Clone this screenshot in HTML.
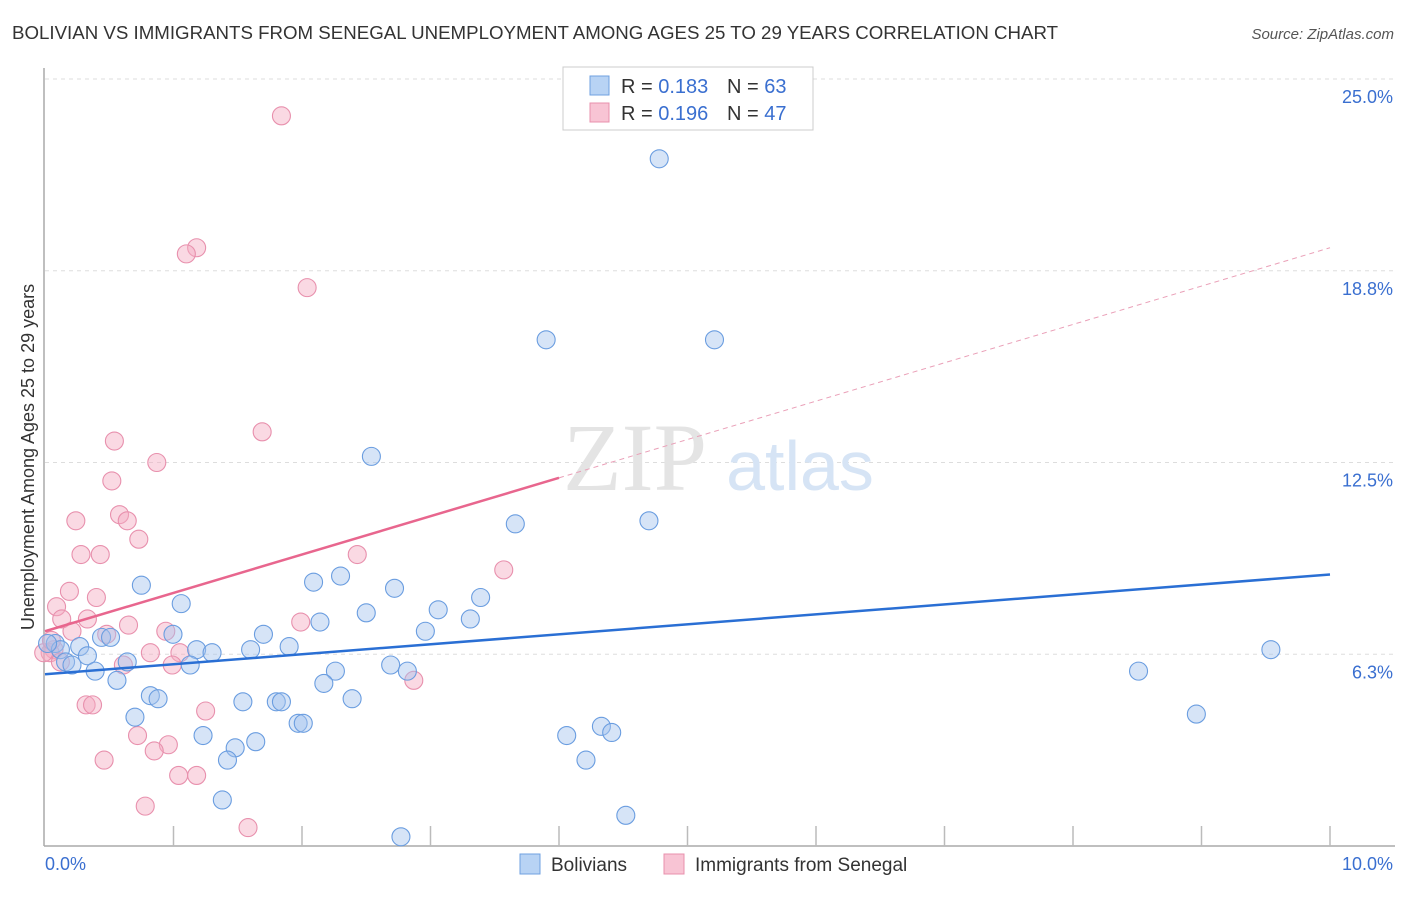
<!DOCTYPE html>
<html><head><meta charset="utf-8"><style>
body{margin:0;background:#fff;font-family:"Liberation Sans",sans-serif}
</style></head><body>
<svg id="chart" width="1406" height="892" xmlns="http://www.w3.org/2000/svg" font-family="Liberation Sans, sans-serif">
<text x="12" y="39" font-size="18.7" fill="#333">BOLIVIAN VS IMMIGRANTS FROM SENEGAL UNEMPLOYMENT AMONG AGES 25 TO 29 YEARS CORRELATION CHART</text>
<text x="1394" y="39" font-size="15" fill="#555" text-anchor="end" font-style="italic">Source: ZipAtlas.com</text>
<g id="grid"></g>
<text x="635" y="490" font-size="96" fill="#e4e4e4" font-family="Liberation Serif, serif" text-anchor="middle">ZIP</text>
<text x="800" y="490" font-size="70" fill="#d6e4f5" text-anchor="middle">atlas</text>
<g id="axes"></g>
<g id="points"></g>
<g id="trends"></g>
<text transform="translate(34,457) rotate(-90)" font-size="18" fill="#333" text-anchor="middle">Unemployment Among Ages 25 to 29 years</text>
<g>
<rect x="563" y="67" width="250" height="63" fill="#fff" stroke="#ccc"/>
<rect x="590" y="76" width="19" height="19" fill="#b8d3f4" stroke="#6fa0e0"/>
<text x="621" y="93" font-size="20" fill="#333">R = <tspan fill="#3a6fd0">0.183</tspan></text>
<text x="727" y="93" font-size="20" fill="#333">N = <tspan fill="#3a6fd0">63</tspan></text>
<rect x="590" y="103" width="19" height="19" fill="#f8c4d4" stroke="#e890ad"/>
<text x="621" y="120" font-size="20" fill="#333">R = <tspan fill="#3a6fd0">0.196</tspan></text>
<text x="727" y="120" font-size="20" fill="#333">N = <tspan fill="#3a6fd0">47</tspan></text>
</g>
<g>
<rect x="520" y="854" width="20" height="20" fill="#b8d3f4" stroke="#6fa0e0"/>
<text x="551" y="871" font-size="19" fill="#333">Bolivians</text>
<rect x="664" y="854" width="20" height="20" fill="#f8c4d4" stroke="#e890ad"/>
<text x="695" y="871" font-size="19" fill="#333">Immigrants from Senegal</text>
</g>
</svg>
<script>
const yTicks=[6.25,12.5,18.75,25];
const yTickLabels=["6.3%","12.5%","18.8%","25.0%"];
const xTickLabels=["0.0%","10.0%"];
const blueX=[4.78,3.90,5.21,2.54,3.66,4.70,0.75,2.09,2.30,2.72,1.06,3.06,3.39,2.50,3.31,2.14,2.96,1.70,0.996,0.44,0.51,1.90,1.60,1.18,1.30,0.27,0.08,0.12,0.33,0.16,0.21,0.39,0.64,1.13,2.69,2.26,2.82,0.56,8.51,9.54,0.82,0.88,2.17,1.54,1.80,1.84,2.39,0.70,1.97,2.01,8.96,1.23,4.06,4.33,4.41,1.64,1.48,1.42,4.21,1.38,4.52,2.77,0.02];
const blueY=[22.4,16.5,16.5,12.7,10.5,10.6,8.5,8.6,8.8,8.4,7.9,7.7,8.1,7.6,7.4,7.3,7.0,6.9,6.9,6.8,6.8,6.5,6.4,6.4,6.3,6.5,6.6,6.4,6.2,6.0,5.9,5.7,6.0,5.9,5.9,5.7,5.7,5.4,5.7,6.4,4.9,4.8,5.3,4.7,4.7,4.7,4.8,4.2,4.0,4.0,4.3,3.6,3.6,3.9,3.7,3.4,3.2,2.8,2.8,1.5,1.0,0.3,6.6];
const pinkX=[1.84,1.18,1.10,2.04,1.69,0.54,0.87,0.52,0.24,0.58,0.64,0.73,0.28,0.43,2.43,3.57,0.19,0.09,0.40,0.13,0.33,0.65,1.99,0.94,0.48,0.21,0.82,1.05,0.61,0.99,2.87,0.07,0.04,0.32,0.37,1.25,0.72,0.96,0.85,0.46,1.04,1.18,0.78,1.58,-0.01,0.05,0.12];
const pinkY=[23.8,19.5,19.3,18.2,13.5,13.2,12.5,11.9,10.6,10.8,10.6,10.0,9.5,9.5,9.5,9.0,8.3,7.8,8.1,7.4,7.4,7.2,7.3,7.0,6.9,7.0,6.3,6.3,5.9,5.9,5.4,6.4,6.3,4.6,4.6,4.4,3.6,3.3,3.1,2.8,2.3,2.3,1.3,0.6,6.3,6.7,6.0];
const blueTrend=[[0,5.6],[10,8.85]];
const pinkTrend=[[0,7.0],[4.0,12.0]];
const pinkDash=[[4.0,12.0],[10,19.5]];
const X0=45,X1=1330,Y0=846,Y25=79;
const xs=v=>X0+(X1-X0)*v/10;
const ys=v=>Y0-(Y0-Y25)*v/25;
const NS="http://www.w3.org/2000/svg";
function mk(t,a,p){const e=document.createElementNS(NS,t);for(const k in a)e.setAttribute(k,a[k]);p.appendChild(e);return e;}
const grid=document.getElementById('grid'),axes=document.getElementById('axes'),pts=document.getElementById('points'),tr=document.getElementById('trends');
yTicks.forEach((t,i)=>{
 const l=mk('line',{x1:45,x2:1395,y1:ys(t),y2:ys(t),stroke:'#ddd','stroke-dasharray':'4,4'},grid);
 
 
 const tx=mk('text',{x:1393,y:ys(t)+24,'font-size':18,fill:'#3a6fd0','text-anchor':'end'},axes);
 tx.textContent=yTickLabels[i];
 
 
});
let a=mk('line',{x1:44,x2:44,y1:68,y2:846,stroke:'#aaa','stroke-width':1.5},axes);


a=mk('line',{x1:44,x2:1395,y1:846,y2:846,stroke:'#aaa','stroke-width':1.5},axes);


for(let i=1;i<=10;i++){
 const tk=mk('line',{x1:xs(i),x2:xs(i),y1:826,y2:846,stroke:'#bbb','stroke-width':1.5},axes);
 
 
}
[[xTickLabels[0],45,'start'],[xTickLabels[1],1393,'end']].forEach(d=>{
 const tx=mk('text',{x:d[1],y:870,'font-size':18,fill:'#3a6fd0','text-anchor':d[2]},axes);
 tx.textContent=d[0];
 
 
});
function dots(X,Y,fill,stroke,name){
 X.forEach((x,i)=>{
  const c=mk('circle',{cx:xs(x),cy:ys(Y[i]),r:9,fill:fill,'fill-opacity':0.45,stroke:stroke,'stroke-width':1.1},pts);
  
  
 });
}
dots(pinkX,pinkY,'#f5aac2','#e890ad','senegal-point');
dots(blueX,blueY,'#a4c4ee','#6a9de0','bolivian-point');
function line(d,col,w,dash,name){
 const l=mk('line',{x1:xs(d[0][0]),y1:ys(d[0][1]),x2:xs(d[1][0]),y2:ys(d[1][1]),stroke:col,'stroke-width':w},tr);
 if(dash)l.setAttribute('stroke-dasharray',dash);
 
 
}
line(pinkDash,'#eaa0b8',1,'5,4','senegal-trend-extension');
line(pinkTrend,'#e8668e',2.5,null,'senegal-trend-line');
line(blueTrend,'#2a6fd4',2.5,null,'bolivian-trend-line');
</script>
</body></html>
